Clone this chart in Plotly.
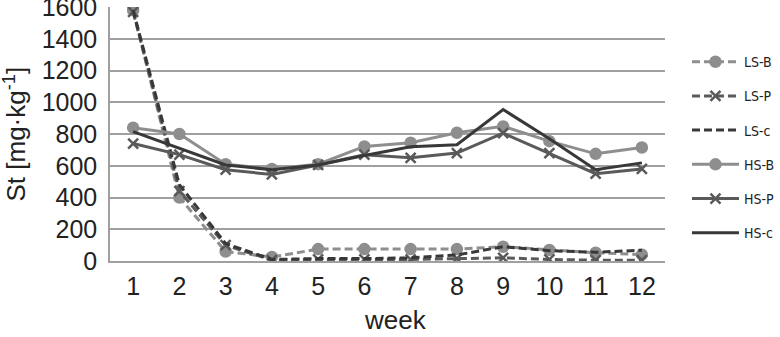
import plotly.graph_objects as go

weeks = ["1", "2", "3", "4", "5", "6", "7", "8", "9", "10", "11", "12"]
ls_b = [1580, 400, 60, 25, 75, 75, 75, 75, 90, 70, 52, 40]
ls_p = [1570, 440, 100, 5, 10, 10, 10, 15, 20, 10, 5, 5]
ls_c = [1580, 480, 110, 10, 15, 15, 20, 38, 90, 65, 55, 68]
hs_b = [840, 800, 610, 580, 610, 722, 745, 808, 848, 755, 675, 715]
hs_p = [740, 670, 575, 545, 605, 670, 650, 680, 805, 680, 550, 580]
hs_c = [815, 710, 605, 575, 605, 665, 720, 732, 954, 770, 575, 618]
names = ["LS-B", "LS-P", "LS-c", "HS-B", "HS-P", "HS-c"]

light, mid, dark = "#8e8e8e", "#5a5a5a", "#383838"
DASH = "8px,4px"
styles = [
    (ls_b, light, DASH, "circle"),
    (ls_p, mid, DASH, "x-thin-open"),
    (ls_c, dark, DASH, None),
    (hs_b, light, "solid", "circle"),
    (hs_p, mid, "solid", "x-thin-open"),
    (hs_c, dark, "solid", None),
]

fig = go.Figure()
for i, (vals, col, dash, sym) in enumerate(styles):
    mode = "lines+markers" if sym else "lines"
    marker = dict(symbol=sym, size=10, color=col, line=dict(color=col, width=2.5)) if sym else None
    fig.add_trace(go.Scatter(
        x=weeks, y=vals, name=names[i], mode=mode, legendgroup=str(i),
        line=dict(color=col, width=3, dash=dash),
        marker=marker,
    ))

fig.update_layout(
    width=780, height=337,
    margin=dict(l=110, r=115, t=7, b=76, autoexpand=False),
    paper_bgcolor="white", plot_bgcolor="white",
    font=dict(family="Liberation Sans, Arial, sans-serif", color="#222"),
    legend=dict(
        x=1.0396, y=0.846, xanchor="left", yanchor="top",
        font=dict(family="Liberation Sans Narrow, DejaVu Sans Condensed, Liberation Sans, sans-serif",
                  size=14, color="#222"),
        tracegroupgap=13, itemwidth=47, bgcolor="rgba(0,0,0,0)",
    ),
    showlegend=True,
    annotations=[
        dict(text="week", xref="paper", yref="paper", x=0.514, y=-0.299, xanchor="center", yanchor="bottom",
             showarrow=False, font=dict(size=26, color="#222")),
        dict(text="St [mg·kg<sup>-1</sup>]", xref="paper", yref="paper", x=-0.172, y=0.5,
             xanchor="center", yanchor="middle", textangle=-90,
             showarrow=False, font=dict(size=26, color="#222")),
    ],
)
fig.update_xaxes(
    type="category", range=[-0.5, 11.5], showgrid=False, showline=True,
    linecolor="#a0a0a0", linewidth=1.5,
    ticks="", tickfont=dict(size=25), ticklabelstandoff=2, automargin=False,
)
fig.update_yaxes(
    range=[0, 1600], dtick=200, showgrid=True, gridcolor="#a0a0a0", gridwidth=1.5,
    showline=True, linecolor="#a0a0a0", linewidth=1.5, zeroline=False,
    tickfont=dict(size=25), ticks="", ticklabeloverflow="allow", automargin=False,
    ticklabelstandoff=6,
)

fig.write_html(
    "out.html",
    config={"displayModeBar": False},
    post_script="document.body.style.margin='0';document.body.style.overflow='hidden';",
)
